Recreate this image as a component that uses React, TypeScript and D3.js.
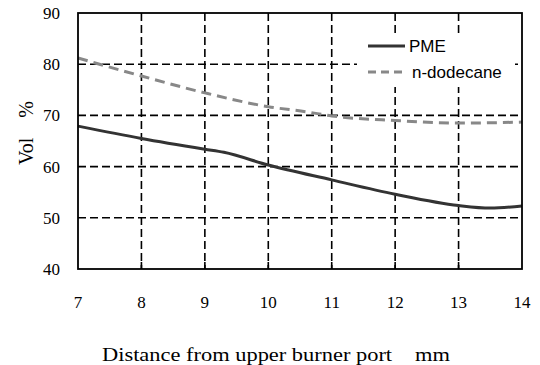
import React from "react";
import * as d3 from "d3";

const xTicks = [7, 8, 9, 10, 11, 12, 13, 14];
const yTicks = [40, 50, 60, 70, 80, 90];

const pmeX = [7, 8, 9, 9.3, 10, 11, 12, 13, 13.5, 14];
const pmeY = [67.9, 65.5, 63.4, 62.8, 60.3, 57.4, 54.6, 52.4, 51.9, 52.3];

const dodX = [7, 8, 9, 10, 10.6, 11, 12, 13, 14];
const dodY = [81.2, 77.7, 74.4, 71.7, 70.7, 69.9, 69.0, 68.5, 68.7];

const seriesNames = ["PME", "n-dodecane"];

const W = 540;
const H = 365;
const L = 78;
const R = 522;
const T = 13;
const B = 269;

export default function App() {
  const x = d3.scaleLinear().domain([7, 14]).range([L, R]);
  const y = d3.scaleLinear().domain([40, 90]).range([B, T]);
  const line = d3
    .line<[number, number]>()
    .x((d) => x(d[0]))
    .y((d) => y(d[1]))
    .curve(d3.curveMonotoneX);
  const pme = line(pmeX.map((v, i) => [v, pmeY[i]] as [number, number])) || "";
  const dod = line(dodX.map((v, i) => [v, dodY[i]] as [number, number])) || "";

  const serif = "'Liberation Serif', 'Times New Roman', serif";
  const sans = "'Liberation Sans', Arial, sans-serif";

  return (
    <svg
      width={W}
      height={H}
      style={{ position: "absolute", left: 0, top: 0, background: "#fff" }}
    >
      <rect x={0} y={0} width={W} height={H} fill="#fff" />
      {/* grid */}
      {yTicks.slice(1, -1).map((t) => (
        <line
          key={"gy" + t}
          x1={L}
          x2={R}
          y1={y(t)}
          y2={y(t)}
          stroke="#000"
          strokeWidth={1.6}
          strokeDasharray="8,4"
        />
      ))}
      {xTicks.slice(1, -1).map((t) => (
        <line
          key={"gx" + t}
          x1={x(t)}
          x2={x(t)}
          y1={T}
          y2={B}
          stroke="#000"
          strokeWidth={1.6}
          strokeDasharray="8,4"
        />
      ))}
      {xTicks.slice(1, -1).map((t) => (
        <line
          key={"tk" + t}
          x1={x(t)}
          x2={x(t)}
          y1={B}
          y2={B - 7}
          stroke="#000"
          strokeWidth={1.6}
        />
      ))}
      {/* series */}
      <path d={dod} fill="none" stroke="#888" strokeWidth={3} strokeDasharray="10,6" />
      <path d={pme} fill="none" stroke="#333" strokeWidth={3} />
      {/* frame */}
      <rect x={L} y={T} width={R - L} height={B - T} fill="none" stroke="#000" strokeWidth={1.8} />
      {/* legend */}
      <rect x={357} y={35} width={158} height={52} fill="#fff" />
      <line x1={368} x2={405} y1={46} y2={46} stroke="#333" strokeWidth={3} />
      <text x={409} y={46} dy="0.35em" fontFamily={sans} fontSize={17} fill="#000">
        {seriesNames[0]}
      </text>
      <line x1={368} x2={405} y1={72} y2={72} stroke="#888" strokeWidth={3} strokeDasharray="8,5" />
      <text x={412} y={72} dy="0.35em" fontFamily={sans} fontSize={17} fill="#000">
        {seriesNames[1]}
      </text>
      {/* y tick labels */}
      {yTicks.map((t) => (
        <text
          key={"yl" + t}
          x={60}
          y={y(t)}
          dy="0.35em"
          textAnchor="end"
          fontFamily={serif}
          fontSize={17}
          fill="#000"
        >
          {t}
        </text>
      ))}
      {/* x tick labels */}
      {xTicks.map((t) => (
        <text
          key={"xl" + t}
          x={x(t)}
          y={308}
          textAnchor="middle"
          fontFamily={serif}
          fontSize={17}
          fill="#000"
        >
          {t}
        </text>
      ))}
      <text
        x={102}
        y={361}
        fontFamily={serif}
        fontSize={18.5}
        fill="#000"
        textLength={348}
        lengthAdjust="spacingAndGlyphs"
      >
        {"Distance from upper burner port\u3000mm"}
      </text>
      <text
        transform="translate(33,133) rotate(-90)"
        textAnchor="middle"
        fontFamily={serif}
        fontSize={20}
        fill="#000"
      >
        {"Vol\u3000%"}
      </text>
    </svg>
  );
}
